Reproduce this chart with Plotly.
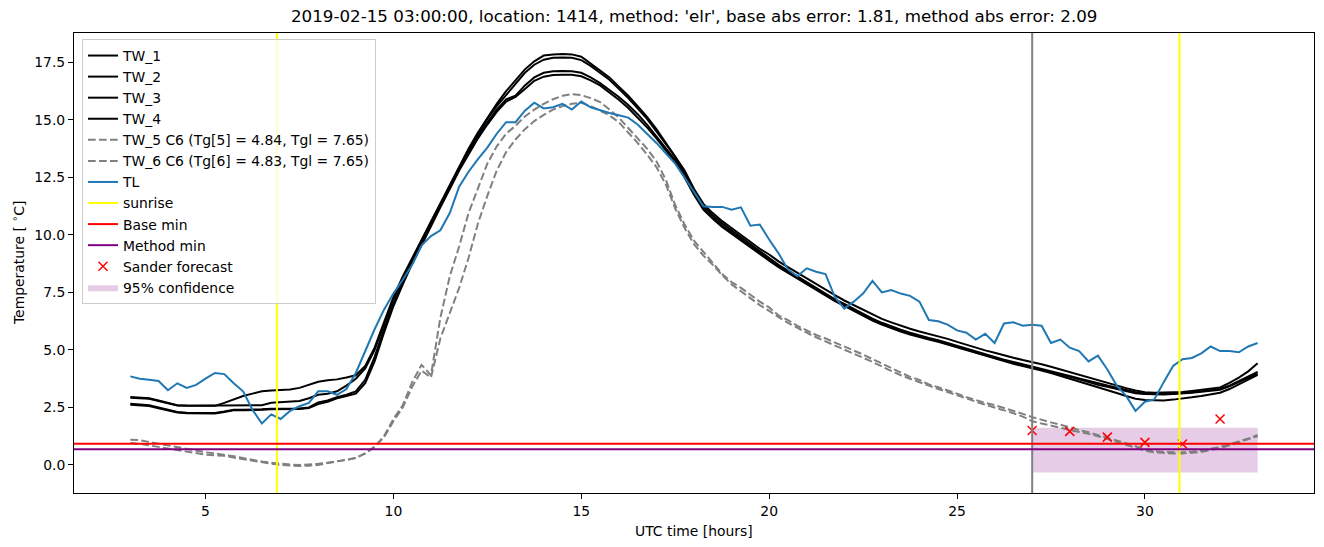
import numpy as np
import plotly.graph_objects as go

# ---------------- data ----------------
t = [3.0 + 0.25 * i for i in range(121)]

TW_1 = [2.95, 2.93, 2.9, 2.8, 2.7, 2.6, 2.58, 2.57, 2.57, 2.57, 2.7, 2.85, 3.0, 3.1, 3.2, 3.24, 3.25, 3.28, 3.35, 3.5,
        3.62, 3.68, 3.72, 3.8, 3.9, 4.3, 5.1, 6.2, 7.3, 8.2, 9.0, 9.8, 10.6, 11.4, 12.2, 13.0, 13.75, 14.45, 15.1, 15.7,
        16.25, 16.75, 17.2, 17.55, 17.8, 17.85, 17.87, 17.85, 17.75, 17.45, 17.15, 16.85, 16.45, 16.05, 15.6, 15.13, 14.6, 14.0, 13.45, 12.8,
        12.0, 11.35, 10.95, 10.6, 10.3, 10.0, 9.7, 9.4, 9.15, 8.85, 8.6, 8.35, 8.1, 7.85, 7.6, 7.38, 7.15, 6.95, 6.72, 6.52,
        6.35, 6.2, 6.05, 5.92, 5.8, 5.7, 5.6, 5.48, 5.35, 5.22, 5.1, 4.98, 4.88, 4.76, 4.66, 4.56, 4.48, 4.38, 4.27, 4.15,
        4.04, 3.93, 3.82, 3.7, 3.58, 3.46, 3.34, 3.24, 3.16, 3.14, 3.14, 3.15, 3.17, 3.22, 3.27, 3.3, 3.37, 3.57, 3.8, 4.07,
        4.42]
TW_2 = [2.92, 2.9, 2.88, 2.78, 2.68, 2.58, 2.57, 2.57, 2.57, 2.57, 2.57, 2.57, 2.57, 2.57, 2.6, 2.7, 2.73, 2.76, 2.78, 2.9,
        3.05, 3.1, 3.2, 3.45, 3.75, 4.2, 5.0, 6.1, 7.2, 8.1, 8.95, 9.75, 10.55, 11.35, 12.15, 12.95, 13.7, 14.4, 15.05, 15.6,
        16.1, 16.6, 17.05, 17.4, 17.62, 17.7, 17.72, 17.7, 17.6, 17.35, 17.05, 16.75, 16.35, 15.95, 15.5, 15.05, 14.5, 13.95, 13.4, 12.7,
        11.95, 11.25, 10.85, 10.5, 10.2, 9.9, 9.6, 9.3, 9.0, 8.7, 8.45, 8.2, 7.95, 7.7, 7.45, 7.2, 7.0, 6.78, 6.55, 6.36,
        6.18, 6.02, 5.88, 5.75, 5.62, 5.52, 5.42, 5.3, 5.17, 5.04, 4.92, 4.8, 4.7, 4.58, 4.48, 4.38, 4.3, 4.2, 4.1, 3.98,
        3.87, 3.76, 3.65, 3.53, 3.45, 3.36, 3.26, 3.16, 3.1, 3.08, 3.08, 3.1, 3.12, 3.16, 3.2, 3.24, 3.3, 3.45, 3.65, 3.86,
        4.05]
TW_3 = [2.66, 2.64, 2.6, 2.5, 2.4, 2.3, 2.27, 2.26, 2.26, 2.26, 2.32, 2.4, 2.4, 2.4, 2.42, 2.44, 2.44, 2.45, 2.45, 2.5,
        2.72, 2.8, 2.95, 3.05, 3.2, 3.7, 4.7, 5.9, 7.0, 7.95, 8.85, 9.65, 10.5, 11.3, 12.1, 12.9, 13.6, 14.3, 14.9, 15.45,
        15.9, 16.05, 16.5, 16.85, 17.05, 17.12, 17.13, 17.12, 17.05, 16.85, 16.6, 16.3, 16.0, 15.65, 15.25, 14.8, 14.3, 13.8, 13.25, 12.6,
        11.85, 11.15, 10.75, 10.4, 10.1, 9.8, 9.5, 9.2, 8.92, 8.63, 8.38, 8.13, 7.88, 7.63, 7.38, 7.15, 6.95, 6.73, 6.5, 6.31,
        6.13, 5.97, 5.83, 5.7, 5.58, 5.48, 5.38, 5.26, 5.13, 5.0, 4.88, 4.76, 4.66, 4.54, 4.44, 4.34, 4.26, 4.16, 4.06, 3.94,
        3.83, 3.72, 3.6, 3.48, 3.4, 3.3, 3.2, 3.12, 3.08, 3.06, 3.06, 3.08, 3.1, 3.14, 3.18, 3.22, 3.27, 3.42, 3.6, 3.78,
        3.97]
TW_4 = [2.62, 2.6, 2.56, 2.46, 2.36, 2.28, 2.25, 2.24, 2.24, 2.24, 2.3, 2.38, 2.38, 2.38, 2.4, 2.42, 2.42, 2.43, 2.43, 2.48,
        2.65, 2.75, 2.9, 3.0, 3.1, 3.55, 4.5, 5.75, 6.9, 7.85, 8.75, 9.55, 10.4, 11.2, 12.0, 12.8, 13.5, 14.2, 14.8, 15.35,
        15.8, 16.0, 16.35, 16.7, 16.88, 16.95, 16.97, 16.96, 16.9, 16.72, 16.5, 16.2, 15.88, 15.52, 15.12, 14.68, 14.2, 13.7, 13.15, 12.5,
        11.75, 11.1, 10.7, 10.35, 10.05, 9.75, 9.45, 9.15, 8.88, 8.6, 8.35, 8.1, 7.85, 7.6, 7.35, 7.12, 6.92, 6.7, 6.48, 6.28,
        6.1, 5.94, 5.8, 5.67, 5.55, 5.45, 5.35, 5.23, 5.1, 4.97, 4.85, 4.73, 4.62, 4.5, 4.4, 4.3, 4.22, 4.11, 4.0, 3.88,
        3.76, 3.64, 3.52, 3.39, 3.26, 3.13, 3.0, 2.88, 2.82, 2.8, 2.8, 2.84, 2.88, 2.94, 3.0, 3.06, 3.14, 3.3, 3.5, 3.72,
        3.92]
TW_5 = [1.1, 1.08, 1.0, 0.92, 0.85, 0.78, 0.7, 0.62, 0.55, 0.5, 0.45, 0.38, 0.3, 0.22, 0.15, 0.1, 0.05, 0.02, 0.0, 0.02,
        0.05, 0.1, 0.15, 0.22, 0.3, 0.5, 0.8, 1.25, 2.0, 2.6, 3.6, 4.35, 3.9, 6.4, 8.2, 9.5, 10.95, 12.0, 13.1, 13.85,
        14.4, 14.75, 15.15, 15.45, 15.7, 15.9, 16.05, 16.12, 16.08, 15.95, 15.78, 15.45, 15.1, 14.65, 14.2, 13.75, 13.2, 12.4, 11.3, 10.45,
        9.75, 9.25, 8.8, 8.3, 7.95, 7.7, 7.4, 7.1, 6.85, 6.5, 6.3, 6.05, 5.85, 5.65, 5.5, 5.33, 5.15, 4.98, 4.8, 4.6,
        4.4, 4.2, 4.0, 3.83, 3.7, 3.5, 3.38, 3.25, 3.1, 2.95, 2.82, 2.7, 2.6, 2.48, 2.35, 2.22, 2.08, 1.95, 1.85, 1.75,
        1.62, 1.52, 1.42, 1.3, 1.18, 1.08, 0.95, 0.82, 0.68, 0.6, 0.56, 0.55, 0.55, 0.58, 0.62, 0.7, 0.78, 0.9, 1.02, 1.15,
        1.3]
TW_6 = [0.95, 0.92, 0.85, 0.78, 0.7, 0.65, 0.58, 0.5, 0.45, 0.42, 0.4, 0.32, 0.25, 0.18, 0.1, 0.05, 0.0, -0.03, -0.05, -0.03,
        0.0, 0.08, 0.15, 0.22, 0.3, 0.5, 0.78, 1.2, 1.9, 2.5, 3.4, 4.1, 3.8, 5.5, 6.6, 7.7, 9.0, 10.5, 11.7, 12.8,
        13.6, 14.15, 14.6, 14.95, 15.22, 15.45, 15.6, 15.7, 15.74, 15.6, 15.4, 15.2, 14.9, 14.45, 14.0, 13.5, 12.95, 12.2, 11.15, 10.3,
        9.6, 9.1, 8.7, 8.25, 7.85, 7.55, 7.25, 6.95, 6.7, 6.42, 6.18, 5.95, 5.75, 5.55, 5.37, 5.2, 5.02, 4.85, 4.68, 4.48,
        4.28, 4.08, 3.9, 3.75, 3.6, 3.42, 3.3, 3.17, 3.02, 2.88, 2.75, 2.62, 2.5, 2.38, 2.25, 2.1, 1.9, 1.8, 1.72, 1.62,
        1.52, 1.45, 1.35, 1.25, 1.12, 1.0, 0.88, 0.75, 0.62, 0.55, 0.52, 0.5, 0.5, 0.52, 0.56, 0.65, 0.72, 0.85, 0.98, 1.1,
        1.25]
TL = [3.85, 3.75, 3.7, 3.65, 3.25, 3.55, 3.35, 3.48, 3.75, 4.0, 3.95, 3.55, 3.2, 2.4, 1.8, 2.2, 2.0, 2.35, 2.55, 2.7,
      3.2, 3.2, 3.05, 3.3, 4.0, 4.95, 5.9, 6.75, 7.45, 8.05, 8.7, 9.55, 9.95, 10.2, 10.95, 12.1, 12.75, 13.3, 13.8, 14.4,
      14.9, 14.9, 15.4, 15.75, 15.5, 15.55, 15.7, 15.45, 15.8, 15.55, 15.42, 15.3, 15.2, 15.1, 14.8, 14.4, 14.0, 13.55, 13.1, 12.5,
      11.9, 11.25, 11.22, 11.22, 11.1, 11.2, 10.4, 10.45, 9.8, 9.2, 8.5, 8.2, 8.55, 8.4, 8.3, 7.3, 6.8, 7.1, 7.45, 8.0,
      7.5, 7.6, 7.45, 7.35, 7.1, 6.3, 6.25, 6.1, 5.85, 5.75, 5.45, 5.7, 5.3, 6.15, 6.2, 6.05, 6.1, 6.05, 5.3, 5.45,
      5.1, 4.95, 4.5, 4.75, 4.15, 3.45, 3.0, 2.35, 2.75, 2.85, 3.6, 4.3, 4.6, 4.65, 4.85, 5.15, 4.95, 4.95, 4.9, 5.15,
      5.3]

sunrise_times = [6.9, 30.92]
forecast_time = 27.0
base_min = 0.92
method_min = 0.68
sander_t = [27, 28, 29, 30, 31, 32]
sander_val = [1.5, 1.46, 1.21, 0.98, 0.91, 2.0]
conf_t = [27, 33]
conf_low = [-0.33, -0.33]
conf_high = [1.62, 1.62]

title = "2019-02-15 03:00:00, location: 1414, method: 'elr', base abs error: 1.81, method abs error: 2.09"
tw_names = ["TW_1", "TW_2", "TW_3", "TW_4",
            "TW_5 C6 (Tg[5] = 4.84, Tgl = 7.65)", "TW_6 C6 (Tg[6] = 4.83, Tgl = 7.65)"]

# ---------------- figure ----------------
FONT = "DejaVu Sans"
fig = go.Figure()

# confidence band (drawn first, below lines)
fig.add_trace(go.Scatter(x=conf_t, y=conf_low, mode="lines", line=dict(width=0),
                         showlegend=False, hoverinfo="skip"))
fig.add_trace(go.Scatter(x=conf_t, y=conf_high, mode="lines", line=dict(width=0),
                         fill="tonexty", fillcolor="rgba(128,0,128,0.2)",
                         name="95% confidence", legendrank=12))

series = [TW_1, TW_2, TW_3, TW_4, TW_5, TW_6]
for i, (nm, ys) in enumerate(zip(tw_names, series)):
    if i < 4:
        ln = dict(color="black", width=2)
    else:
        ln = dict(color="gray", width=2, dash="7.7px,3.3px")
    fig.add_trace(go.Scatter(x=t, y=ys, mode="lines", line=ln, name=nm, legendrank=i + 1))

fig.add_trace(go.Scatter(x=t, y=TL, mode="lines", line=dict(color="#1f77b4", width=2),
                         name="TL", legendrank=7))

fig.add_trace(go.Scatter(x=sander_t, y=sander_val, mode="markers",
                         marker=dict(symbol="x-thin", size=9, line=dict(width=1.5, color="red"), color="red"),
                         name="Sander forecast", legendrank=11))

# vertical / horizontal reference lines
for k, st in enumerate(sunrise_times):
    fig.add_shape(type="line", xref="x", yref="paper", x0=st, x1=st, y0=0, y1=1,
                  line=dict(color="#ffff00", width=2), layer="above",
                  showlegend=(k == 0), name="sunrise", legendrank=8)
fig.add_shape(type="line", xref="x", yref="paper", x0=forecast_time, x1=forecast_time, y0=0, y1=1,
              line=dict(color="gray", width=2), layer="above")
fig.add_shape(type="line", xref="paper", yref="y", x0=0, x1=1, y0=base_min, y1=base_min,
              line=dict(color="red", width=2), layer="above",
              showlegend=True, name="Base min", legendrank=9)
fig.add_shape(type="line", xref="paper", yref="y", x0=0, x1=1, y0=method_min, y1=method_min,
              line=dict(color="purple", width=2), layer="above",
              showlegend=True, name="Method min", legendrank=10)

L, R, T, B = 74, 10, 33, 54
W, H = 1324, 547
pw = W - L - R
ph = H - T - B

fig.update_layout(
    width=W, height=H,
    margin=dict(l=L, r=R, t=T, b=B),
    paper_bgcolor="white", plot_bgcolor="white",
    font=dict(family=FONT, size=13.9, color="black"),
    showlegend=True,
    legend=dict(x=(82 - L) / pw, y=1 - (39 - T) / ph, xanchor="left", yanchor="top",
                traceorder="normal",
                bgcolor="rgba(255,255,255,0.8)", bordercolor="#cccccc", borderwidth=1,
                font=dict(family=FONT, size=13.9), tracegroupgap=0, itemwidth=30),
    xaxis=dict(range=[1.5, 34.5], tickvals=[5, 10, 15, 20, 25, 30], ticks="outside", ticklen=5,
               tickcolor="black", showline=True, linecolor="black", linewidth=1, mirror=True,
               showgrid=False, zeroline=False, tickfont=dict(size=13.9)),
    yaxis=dict(range=[-1.22, 18.78], tickvals=[0, 2.5, 5, 7.5, 10, 12.5, 15, 17.5], tickformat=".1f",
               ticks="outside", ticklen=5, tickcolor="black", showline=True, linecolor="black",
               linewidth=1, mirror=True, showgrid=False, zeroline=False, tickfont=dict(size=13.9)),
    annotations=[
        dict(text=title, xref="paper", yref="paper", x=0.5, y=1 + (T - 16) / ph, xanchor="center",
             yanchor="middle", showarrow=False, font=dict(size=16.7, family=FONT)),
        dict(text="UTC time [hours]", xref="paper", yref="paper", x=0.5, y=-(531 - (H - B)) / ph,
             xanchor="center", yanchor="middle", showarrow=False, font=dict(size=13.9, family=FONT)),
        dict(text="Temperature [ <sup>∘</sup>C]", xref="paper", yref="paper", x=-(L - 18) / pw, y=0.5,
             xanchor="center", yanchor="middle", textangle=-90, showarrow=False,
             font=dict(size=13.9, family=FONT)),
    ],
)

fig.write_html("out.html")
